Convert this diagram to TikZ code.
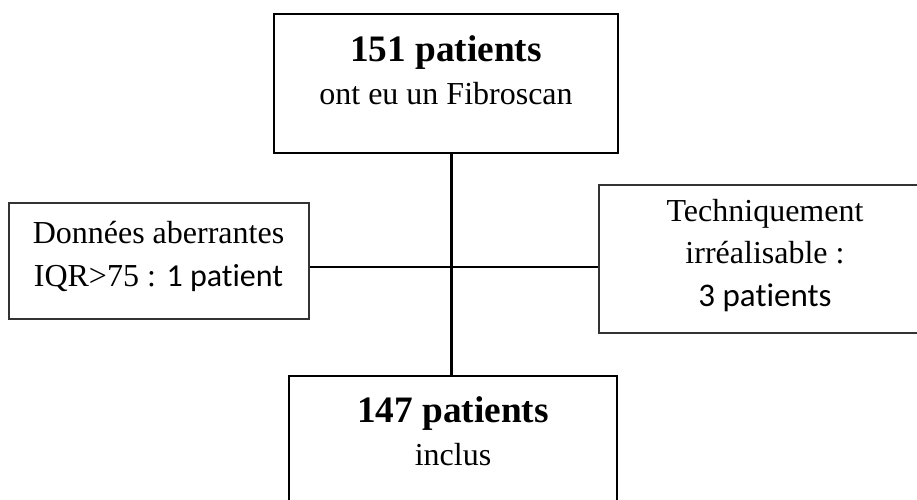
\documentclass[tikz,border=0pt]{standalone}
\usepackage{fontspec}
\setmainfont{Liberation Serif}
\newfontfamily\carlito[Ligatures=NoCommon]{Carlito}
\begin{document}
\begin{tikzpicture}[x=1pt,y=-1pt,
  mainbox/.style={draw=black,line width=2.4pt,rectangle,inner sep=0pt},
  sidebox/.style={draw=black!80,line width=1.7pt,rectangle,inner sep=0pt},
  link/.style={draw=black,line width=2.4pt},
  txt/.style={align=center,inner sep=0pt,anchor=base,font=\fontsize{32}{43}\selectfont}]
\useasboundingbox (0,0) rectangle (917,499);
\clip (0,0) rectangle (917,499);
% boxes
\node[mainbox,minimum width=344pt,minimum height=139pt] (top) at (446,83.5) {};
\node[mainbox,minimum width=328pt,minimum height=154pt] (bot) at (453,453) {};
\node[sidebox,minimum width=300pt,minimum height=116pt] (left) at (159,261) {};
\node[sidebox,minimum width=332pt,minimum height=148pt] (right) at (765,259) {};
\coordinate (cross) at (451.5,267);
% connectors
\draw[link] (top.south -| cross) -- (bot.north -| cross);
\draw[link] (left.east |- cross) -- (right.west |- cross);
% texts (base anchor = baseline of last line)
\node[txt] (toptxt) at (446,104) {{\fontsize{37.3}{43}\selectfont\bfseries 151 patients}\\ont eu un Fibroscan};
\node[txt] (bottxt) at (453,465) {{\fontsize{37.3}{43}\selectfont\bfseries 147 patients}\\inclus};
\node[txt] (lefttxt) at (158.5,286) {Données aberrantes\\IQR>75 : {\carlito 1 patient}};
\node[txt,font=\fontsize{32}{42.5}\selectfont] (righttxt) at (765,306) {Techniquement\\irréalisable :\\{\carlito\fontsize{33}{42.5}\selectfont 3 patients}};
\end{tikzpicture}
\end{document}
